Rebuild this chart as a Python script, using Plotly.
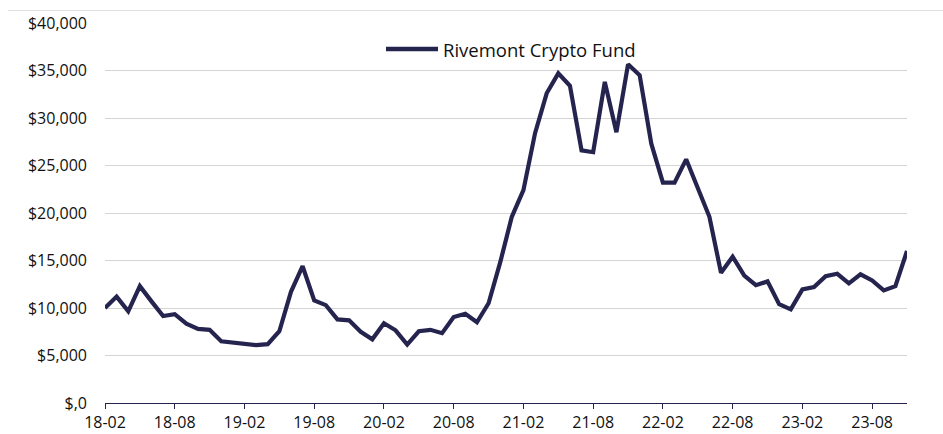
import plotly.graph_objects as go

series_name = "Rivemont Crypto Fund"

# monthly values, 2018-02 .. 2023-11
months = []
y0, m0 = 2018, 2
for i in range(70):
    yy = y0 + (m0 - 1 + i) // 12
    mm = (m0 - 1 + i) % 12 + 1
    months.append(f"{yy % 100:02d}-{mm:02d}")

values = [
    10000, 11200, 9650, 12300, 10700, 9150, 9350, 8350, 7800, 7700,
    6500, 6350, 6200, 6100, 6200, 7550, 11700, 14400, 10800, 10300,
    8800, 8700, 7500, 6700, 8400, 7650, 6150, 7550, 7700, 7350,
    9050, 9400, 8500, 10500, 14800, 19600, 22400, 28400, 32600, 34700,
    33400, 26600, 26400, 33800, 28500, 35650, 34500, 27300, 23200, 23200,
    25650, 22600, 19600, 13700, 15400, 13400, 12400, 12800, 10400, 9850,
    11950, 12200, 13350, 13600, 12600, 13550, 12900, 11850, 12300, 16000,
]

tick_every = 6
x_tickvals = months[::tick_every]

y_tickvals = [0, 5000, 10000, 15000, 20000, 25000, 30000, 35000, 40000]
y_ticktext = ["$,0", "$5,000", "$10,000", "$15,000", "$20,000", "$25,000",
              "$30,000", "$35,000", "$40,000"]

line_color = "#25244f"
font_family = "Open Sans"

fig = go.Figure()
fig.add_trace(go.Scatter(
    x=months, y=values, mode="lines", name=series_name,
    line=dict(color=line_color, width=4.2), showlegend=False,
))

fig.update_layout(
    width=943, height=434,
    margin=dict(l=105, r=36, t=23, b=31),
    paper_bgcolor="white", plot_bgcolor="white",
    font=dict(family=font_family, size=16, color="#111111"),
)
fig.update_xaxes(
    type="category", range=[0, len(months) - 1], automargin=False,
    tickmode="array", tickvals=x_tickvals, ticktext=x_tickvals,
    showgrid=False, showline=True, linecolor=line_color, linewidth=1.3,
    ticks="outside", ticklen=5, tickcolor=line_color, tickwidth=1.3,
    tickfont=dict(size=16), zeroline=False,
)
fig.update_yaxes(
    range=[0, 40000], tickmode="array", tickvals=y_tickvals, ticktext=y_ticktext,
    automargin=False,
    showgrid=True, gridcolor="#d4d4d4", gridwidth=1,
    showline=False, zeroline=False, ticks="", ticklabelstandoff=17,
    tickfont=dict(size=16),
)

# chart-area top border
fig.add_shape(type="line", xref="paper", yref="paper",
              x0=-97/802, x1=1 + 36/802, y0=(402.7 - 10.5) / 379.7, y1=(402.7 - 10.5) / 379.7,
              line=dict(color="#e0e0e0", width=1))

# legend (manual, wider line sample)
ly = (402.7 - 49) / 379.7
fig.add_shape(type="line", xref="paper", yref="paper",
              x0=(386 - 105) / 802, x1=(438 - 105) / 802, y0=ly, y1=ly,
              line=dict(color=line_color, width=4.5))
fig.add_annotation(xref="paper", yref="paper", x=(441 - 105) / 802, y=ly,
                   xanchor="left", yanchor="middle", showarrow=False,
                   text=series_name, font=dict(size=18.5, color="#111111"))

fig.write_html("out.html", config={"displayModeBar": False},
               post_script="document.body.style.margin='0';document.body.style.overflow='hidden';")
